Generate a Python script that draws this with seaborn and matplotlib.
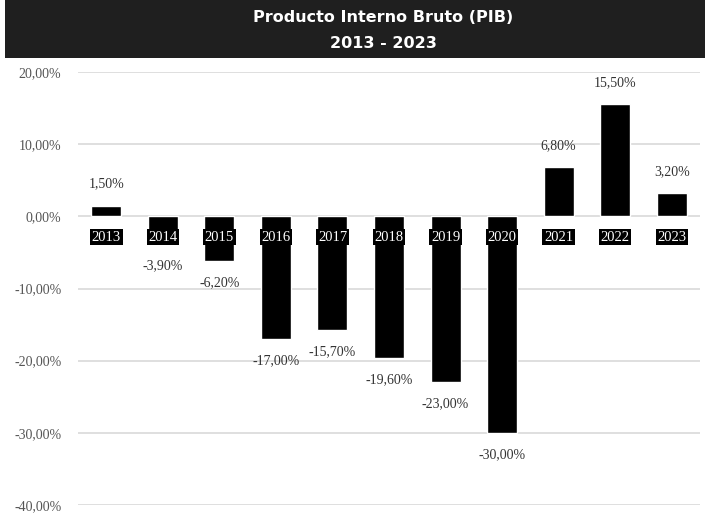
import matplotlib
matplotlib.use("Agg")
import matplotlib.pyplot as plt
import seaborn as sns
import pandas as pd
from matplotlib.patches import Rectangle

years = ["2013", "2014", "2015", "2016", "2017", "2018", "2019", "2020", "2021", "2022", "2023"]
values = [1.5, -3.9, -6.2, -17.0, -15.7, -19.6, -23.0, -30.0, 6.8, 15.5, 3.2]
yticks = [20, 10, 0, -10, -20, -30, -40]
title_lines = ["Producto Interno Bruto (PIB)", "2013 - 2023"]

sns.set_theme(style="white")
df = pd.DataFrame({"year": years, "value": values})

fig = plt.figure(figsize=(7.10, 5.16), dpi=100)
ax = fig.add_axes([78/710, 1 - 505/516, (700-78)/710, (505-72)/516])

sns.barplot(data=df, x="year", y="value", color="black", width=0.53,
            saturation=1, ax=ax, zorder=3)

ax.set_ylim(-40, 20)
ax.set_xlim(-0.5, len(years) - 0.5)
ax.set_yticks(yticks)
ax.set_yticklabels([f"{t:.2f}%".replace(".", ",") for t in yticks],
                   family="Liberation Serif", fontsize=10, color="#555555")
ax.set_xticks([])
ax.set_xlabel("")
ax.set_ylabel("")
ax.tick_params(axis="y", length=0, pad=12)
for s in ax.spines.values():
    s.set_visible(False)
for t in yticks:
    ax.axhline(t, color="#d9d9d9", lw=1.2, zorder=1)

for i, (yr, v) in enumerate(zip(years, values)):
    ax.text(i, -2.9, yr, ha="center", va="center", color="white",
            family="Liberation Serif", fontsize=10.5, zorder=5,
            bbox=dict(facecolor="black", edgecolor="none", pad=1.2))
    lab = f"{v:.2f}%".replace(".", ",")
    if v >= 0:
        ax.text(i, v + 3.0, lab, ha="center", va="center", color="#333333",
                family="Liberation Serif", fontsize=10, zorder=5)
    else:
        ax.text(i, v - 3.0, lab, ha="center", va="center", color="#333333",
                family="Liberation Serif", fontsize=10, zorder=5)

fig.patches.append(Rectangle((5/710, 1 - 58/516), 700/710, 58/516,
                             transform=fig.transFigure, facecolor="#1f1f1f",
                             edgecolor="none", zorder=0))
fig.text(383/710, 1 - 17/516, title_lines[0], ha="center", va="center",
         color="white", fontsize=11.5, fontweight="bold", family="DejaVu Sans")
fig.text(383/710, 1 - 44/516, title_lines[1], ha="center", va="center",
         color="white", fontsize=11.5, fontweight="bold", family="DejaVu Sans")

fig.savefig("out.png", dpi=100)
